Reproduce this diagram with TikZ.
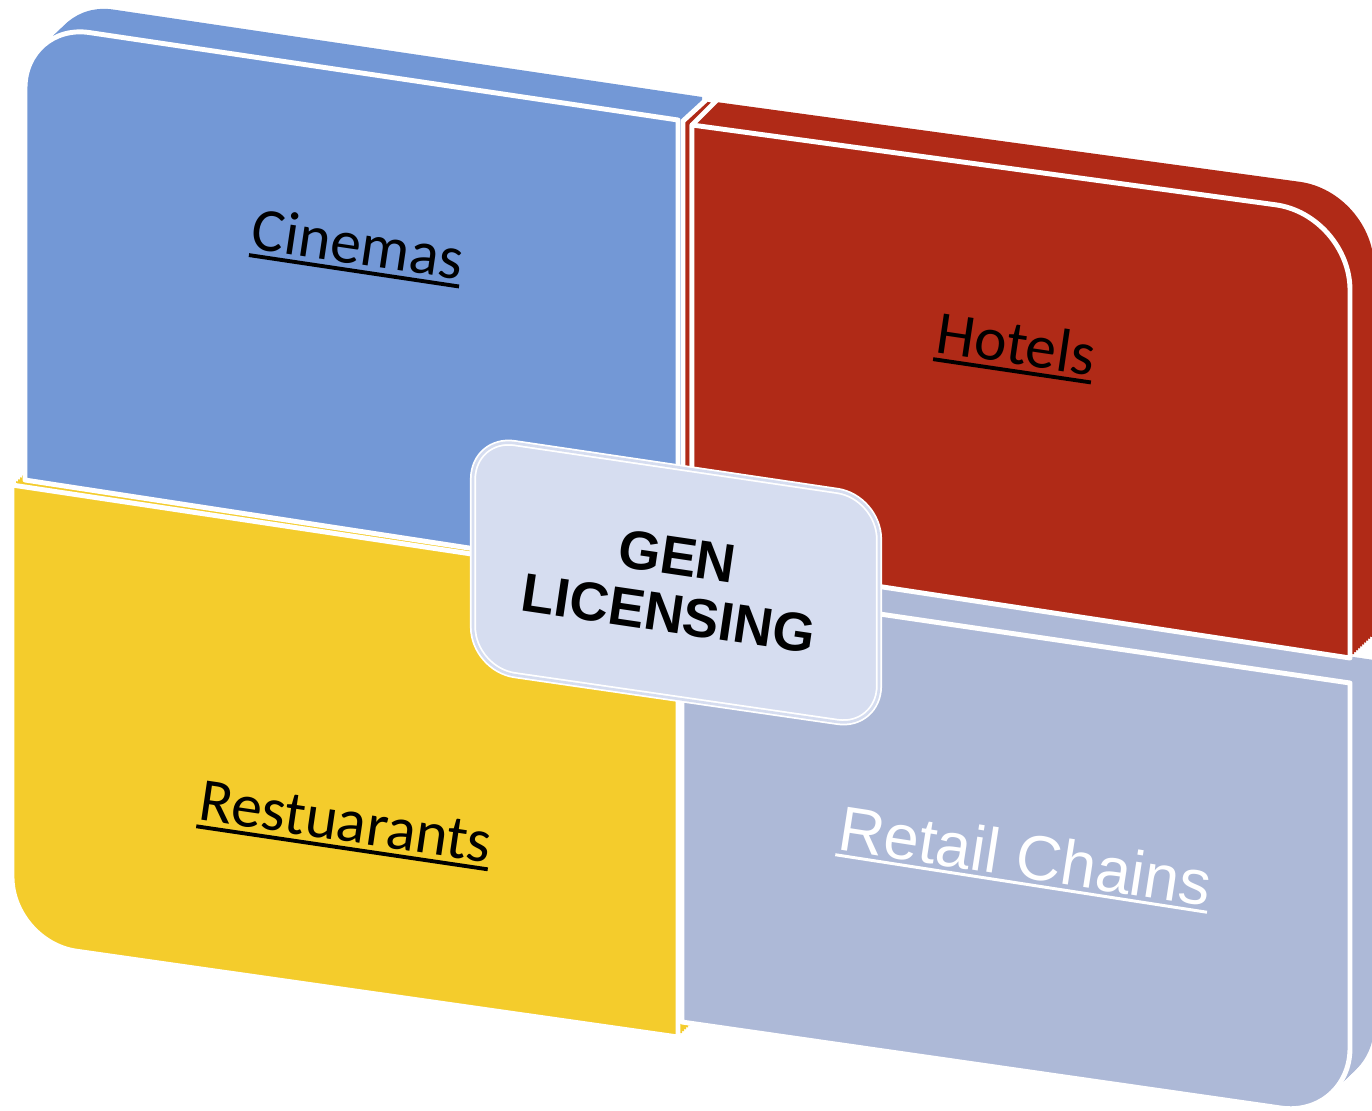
\documentclass[tikz,border=0pt]{standalone}
\usepackage{fontspec}
\setmainfont{Carlito}
\newfontfamily\arialf{Liberation Sans}
\definecolor{cblue}{HTML}{7398D6}
\definecolor{cred}{HTML}{B02A17}
\definecolor{cyellow}{HTML}{F4CC2C}
\definecolor{clav}{HTML}{ADB9D7}
\definecolor{ccenter}{HTML}{D6DDF0}
\newsavebox\ulbox
\newcommand\myul[3]{\sbox\ulbox{#3}\rlap{\rule[-#1]{\wd\ulbox}{#2}}\usebox\ulbox}
\newcommand\bluepath{(25,480) -- (25,88) .. controls (25,52) and (54,27.5) .. (89,32.5) -- (678,120) -- (678,580) -- cycle}
\newcommand\redpath{(692,558) -- (692,125) -- (1275.7,204.8) .. controls (1316.7,210.4) and (1350,248.6) .. (1350,290) -- (1350,658) -- cycle}
\newcommand\yellowpath{(12,485) -- (678,585) -- (678,1037) -- (76.4,951.2) .. controls (40.8,946.1) and (12,912.9) .. (12,877) -- cycle}
\newcommand\retailpath{(682,585) -- (1350,683) -- (1350,1048) .. controls (1350,1086.6) and (1319,1113.5) .. (1280.7,1108) -- (682,1022) -- cycle}
\newcommand\centerpath{(473,479) .. controls (473,455.8) and (491.6,439.7) .. (514.6,443.1) -- (837.4,490.9) .. controls (860.4,494.3) and (879,515.8) .. (879,539) -- (879,686) .. controls (879,709.2) and (860.4,725.3) .. (837.4,721.9) -- (514.6,675.1) .. controls (491.6,671.7) and (473,650.2) .. (473,627) -- cycle}
\newcommand\extrude[2]{\foreach \t in {1,...,12}{\fill[#1, shift={(2*\t,-1.917*\t)}] #2;}}
\tikzset{
  front/.style={fill=#1, draw=white, line width=2.8pt, line join=round},
  lbl/.style={inner sep=0pt, anchor=base, font=\fontsize{35}{42}\selectfont, text=black},
}
\begin{document}
\begin{tikzpicture}[x=0.02cm, y=-0.02cm]
\useasboundingbox (0,0) rectangle (1372,1110);
% bottom-left: yellow
\extrude{cyellow}{\yellowpath}
\path[front=cyellow] \yellowpath;
% bottom-right: lavender
\extrude{clav}{\retailpath}
\path[front=clav] \retailpath;
% top-left: blue
\extrude{cblue}{\bluepath}
\path[front=cblue] \bluepath;
% top-right: red
\extrude{cred}{\redpath}
\path[front=cred] (683,121) -- (707,99) -- (716,101) -- (692,125) -- (692,558) -- (683,557) -- cycle;
\path[front=cred] \redpath;
% centre
\path[fill=ccenter, draw=white, line width=3.5pt, line join=round] \centerpath;
\path[draw=ccenter, line width=1.5pt, line join=round] \centerpath;
\node[font=\arialf\bfseries\fontsize{31}{33}\selectfont, align=center, rotate=-8.4, inner sep=0pt] (gen) at (673,585) {GEN\\LICENSING};
% labels
\node[lbl, rotate=-8.5] (cin) at (355,264) {\myul{5pt}{2.2pt}{Cinemas}};
\node[lbl, rotate=-8.4] (hot) at (1013,364) {\myul{5pt}{2.2pt}{Hotels}};
\node[lbl, rotate=-8.4] (res) at (343,841) {\myul{5pt}{2.2pt}{Restuarants}};
\node[lbl, rotate=-8.8, font=\arialf\fontsize{36}{42}\selectfont, text=white] (ret) at (1022,878) {\myul{4pt}{1.7pt}{Retail Chains}};
\end{tikzpicture}
\end{document}
